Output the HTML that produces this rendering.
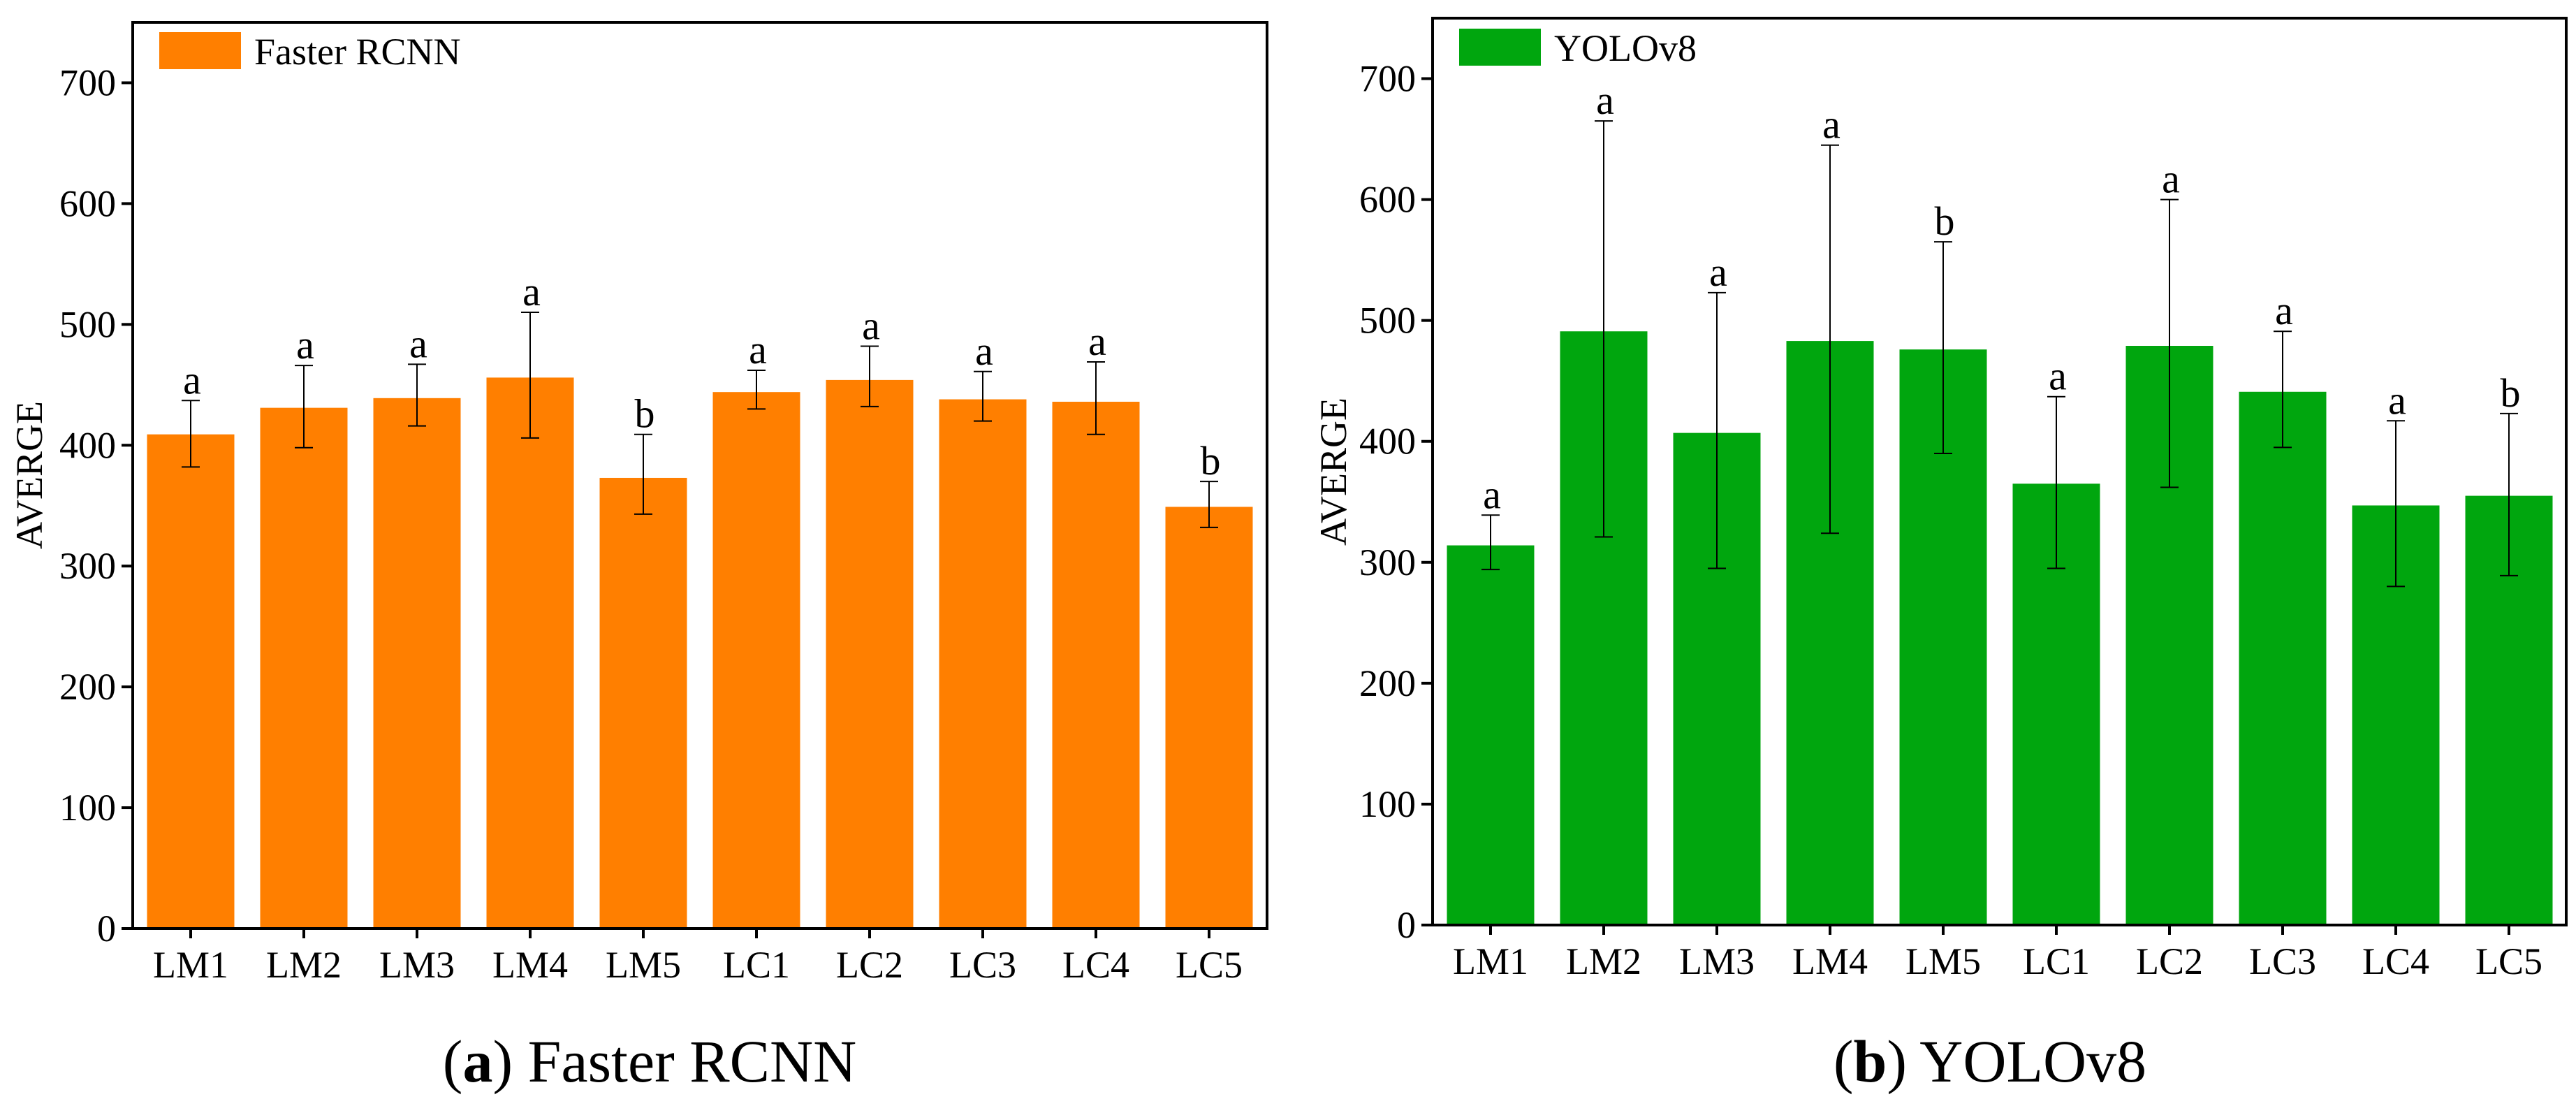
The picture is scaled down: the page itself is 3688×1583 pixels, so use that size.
<!DOCTYPE html>
<html><head><meta charset="utf-8"><style>
html,body{margin:0;padding:0;background:#fff;}
svg{display:block;}
svg text{font-family:"Liberation Serif","DejaVu Serif",serif;}
</style></head><body>
<svg id="fig" width="3688" height="1583" viewBox="0 0 3688 1583" xmlns="http://www.w3.org/2000/svg" font-family="Liberation Serif, serif"></svg>
<script>
const categories = ["LM1","LM2","LM3","LM4","LM5","LC1","LC2","LC3","LC4","LC5"];
const yTicks = [0,100,200,300,400,500,600,700];
const frcnnMean = [409,431,439,456,373,444,454,438,436,349];
const frcnnHigh = [437,466,467,510,409,462,482,461,469,370];
const frcnnLow  = [382,398,416,406,343,430,432,420,409,332];
const frcnnLetters = ["a","a","a","a","b","a","a","a","a","b"];
const yoloMean = [314,491,407,483,476,365,479,441,347,355];
const yoloHigh = [339,665,523,645,565,437,600,491,417,423];
const yoloLow  = [294,321,295,324,390,295,362,395,280,289];
const yoloLetters = ["a","a","a","a","b","a","a","a","a","b"];

const NS = "http://www.w3.org/2000/svg";
const svg = document.getElementById("fig");
function mk(tag, attrs, parent){
  const e = document.createElementNS(NS, tag);
  for (const k in attrs) e.setAttribute(k, attrs[k]);
  (parent||svg).appendChild(e);
  return e;
}

function panel(cfg){
  const g = mk("g", {});
  
  
  const yMax = 750;
  const y = v => cfg.y0 - (v / yMax) * (cfg.y0 - cfg.top);
  const x = i => cfg.c0 + i * cfg.step;
  cfg.mean.forEach((v,i)=>{
    const r = mk("rect", {x: x(i)-cfg.bw/2, y: y(v), width: cfg.bw, height: cfg.y0 - y(v), fill: cfg.color}, g);
    
    
  });
  cfg.mean.forEach((v,i)=>{
    const eg = mk("g", {stroke:"#000","stroke-width":2}, g);
    
    
    mk("line", {x1:x(i), x2:x(i), y1:y(cfg.high[i]), y2:y(cfg.low[i])}, eg);
    mk("line", {x1:x(i)-13, x2:x(i)+13, y1:y(cfg.high[i]), y2:y(cfg.high[i])}, eg);
    mk("line", {x1:x(i)-13, x2:x(i)+13, y1:y(cfg.low[i]), y2:y(cfg.low[i])}, eg);
    const t = mk("text", {x:x(i)+2, y:y(cfg.high[i])-10, "font-size":58, "text-anchor":"middle", fill:"#000"}, g);
    t.textContent = cfg.letters[i];
    
    
  });
  const fr = mk("rect", {x: cfg.left, y: cfg.top, width: cfg.right - cfg.left, height: cfg.y0 - cfg.top, fill:"none", stroke:"#000", "stroke-width":4}, g);
  
  
  yTicks.forEach(v=>{
    mk("line", {x1: cfg.left-16, x2: cfg.left, y1: y(v), y2: y(v), stroke:"#000","stroke-width":4}, g);
    const t = mk("text", {x: cfg.left-24, y: y(v)+18, "font-size":54, "text-anchor":"end", fill:"#000"}, g);
    t.textContent = v;
    
    
  });
  categories.forEach((c,i)=>{
    mk("line", {x1:x(i), x2:x(i), y1:cfg.y0, y2:cfg.y0+14, stroke:"#000","stroke-width":4}, g);
    const t = mk("text", {x:x(i), y:cfg.y0+70, "font-size":54, "text-anchor":"middle", fill:"#000"}, g);
    t.textContent = c;
    
    
  });
  const yt = mk("text", {x:0, y:0, "font-size":54, "text-anchor":"middle", fill:"#000",
    transform:`translate(${cfg.ytx},${cfg.yty}) rotate(-90)`}, g);
  yt.textContent = "AVERGE";
  
  
  const lg = mk("g", {}, g);
  
  
  mk("rect", {x:cfg.lx, y:cfg.ly, width:117, height:53, fill:cfg.color}, lg);
  const lt = mk("text", {x:cfg.lx+136, y:cfg.ly+46, "font-size":54, fill:"#000"}, lg);
  lt.textContent = cfg.name;
  const cap = mk("text", {x:cfg.capx, y:1548, "font-size":86, "text-anchor":"middle", fill:"#000"}, g);
  
  
  const t1 = mk("tspan", {}, cap); t1.textContent = "(";
  const t2 = mk("tspan", {"font-weight":"bold"}, cap); t2.textContent = cfg.tag;
  const t3 = mk("tspan", {}, cap); t3.textContent = ") " + cfg.name;
}

panel({id:"faster-rcnn", name:"Faster RCNN", tag:"a", color:"#ff7f00",
  left:190, right:1814, top:32, y0:1329, c0:273, step:162, bw:125,
  mean:frcnnMean, high:frcnnHigh, low:frcnnLow, letters:frcnnLetters,
  ytx:60, yty:680, lx:228, ly:46, capx:930});
panel({id:"yolov8", name:"YOLOv8", tag:"b", color:"#00a60e",
  left:2051, right:3674, top:26, y0:1324, c0:2134, step:162, bw:125,
  mean:yoloMean, high:yoloHigh, low:yoloLow, letters:yoloLetters,
  ytx:1927, yty:675, lx:2089, ly:41, capx:2849});
</script>
</body></html>
